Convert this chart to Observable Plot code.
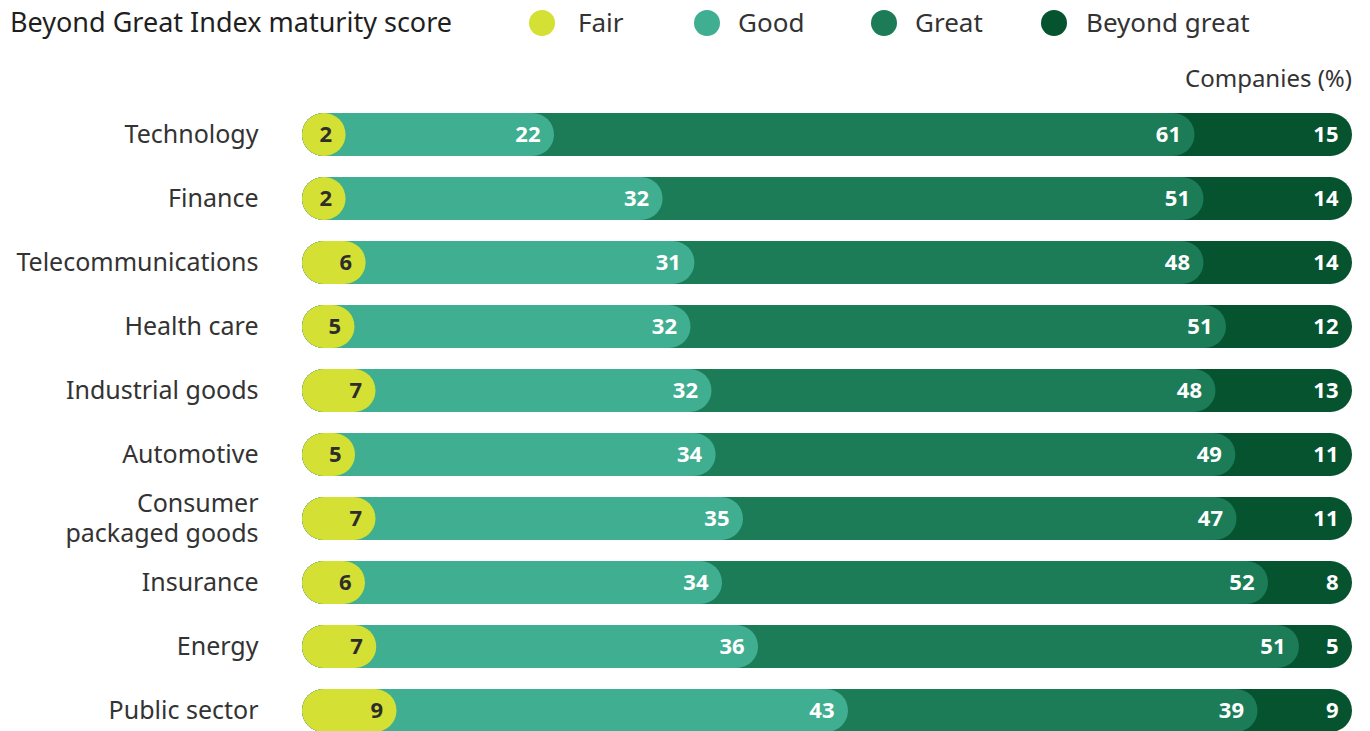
<!DOCTYPE html>
<html>
<head>
<meta charset="utf-8">
<script src="https://cdn.jsdelivr.net/npm/d3@7"></script>
<script src="https://cdn.jsdelivr.net/npm/@observablehq/plot@0.6"></script>
<style>
  html, body { margin: 0; padding: 0; background: #fff; }
  body { width: 1370px; height: 731px; overflow: hidden; font-family: "Noto Sans", sans-serif; color: #2b2b2b; }
  #header { position: relative; width: 1370px; height: 100px; }
  #header .t { position: absolute; white-space: nowrap; }
  #header .dot { position: absolute; width: 26px; height: 26px; border-radius: 50%; }
  #chart svg { display: block; overflow: visible; }
</style>
</head>
<body>
<div id="header"></div>
<div id="chart"></div>
<script>
const categories = ["Technology", "Finance", "Telecommunications", "Health care", "Industrial goods",
  "Automotive", "Consumer packaged goods", "Insurance", "Energy", "Public sector"];
const categoryLabels = ["Technology", "Finance", "Telecommunications", "Health care", "Industrial goods",
  "Automotive", "Consumer\npackaged goods", "Insurance", "Energy", "Public sector"];
const levels = ["Fair", "Good", "Great", "Beyond great"];
const fair   = [2, 2, 6, 5, 7, 5, 7, 6, 7, 9];
const good   = [22, 32, 31, 32, 32, 34, 35, 34, 36, 43];
const great  = [61, 51, 48, 51, 48, 49, 47, 52, 51, 39];
const beyond = [15, 14, 14, 12, 13, 11, 11, 8, 5, 9];
const colors = ["#d4e033", "#3fae91", "#1b7c57", "#06532f"];

const series = [fair, good, great, beyond];
const minEnd = 4.15; // a lone segment is at least a circle
const rows = [];
categories.forEach((c, i) => {
  const vals = series.map(s => s[i]);
  const total = d3.sum(vals);
  let cum = 0;
  const segs = vals.map((v, k) => {
    cum += v;
    return { category: c, level: levels[k], value: v, end: Math.max(cum / total * 100, minEnd) };
  });
  rows.push(...segs.reverse());
});

// header: title + legend + unit note
const header = document.getElementById("header");
function addText(txt, style) {
  const el = document.createElement("div");
  el.className = "t";
  el.textContent = txt;
  Object.assign(el.style, style);
  header.appendChild(el);
  return el;
}
addText("Beyond Great Index maturity score", { left: "10px", top: "3px", fontSize: "27px", lineHeight: "38px", color: "#1f1f1f" });
const legendDotX = [529, 694, 871, 1041];
const legendTextX = [578, 738, 915, 1086];
levels.forEach((l, k) => {
  const d = document.createElement("div");
  d.className = "dot";
  Object.assign(d.style, { left: legendDotX[k] + "px", top: "10px", background: colors[k] });
  header.appendChild(d);
  addText(l, { left: legendTextX[k] + "px", top: "3px", fontSize: "26px", lineHeight: "38px", color: "#333" });
});
addText("Companies (%)", { right: "18px", top: "61px", fontSize: "24px", lineHeight: "34px", color: "#333" });

const chart = Plot.plot({
  width: 1370,
  height: 631,
  marginLeft: 302,
  marginRight: 18,
  marginTop: 0,
  marginBottom: 0,
  style: { fontFamily: "Noto Sans, sans-serif", background: "transparent" },
  x: { domain: [0, 100], range: [302, 1352], axis: null },
  y: { domain: categories, range: [13, 632.5], paddingInner: 0.33, paddingOuter: 0, axis: null },
  color: { domain: levels, range: colors },
  marks: [
    Plot.barX(rows, { x1: () => 0, x2: "end", y: "category", fill: "level", rx: 21.5 }),
    Plot.text(rows, {
      x: "end", y: "category", text: d => String(d.value),
      textAnchor: "end", dx: -14, fontSize: 22, fontWeight: 700,
      fill: d => d.level === "Fair" ? "#2d2d2d" : "#ffffff"
    }),
    Plot.text(categories, {
      x: () => 0, y: d => d, text: (d, i) => categoryLabels[i],
      textAnchor: "end", dx: -44, dy: -2, fontSize: 25, fill: "#333", lineHeight: 1.2
    })
  ]
});
document.getElementById("chart").appendChild(chart);
</script>
</body>
</html>
